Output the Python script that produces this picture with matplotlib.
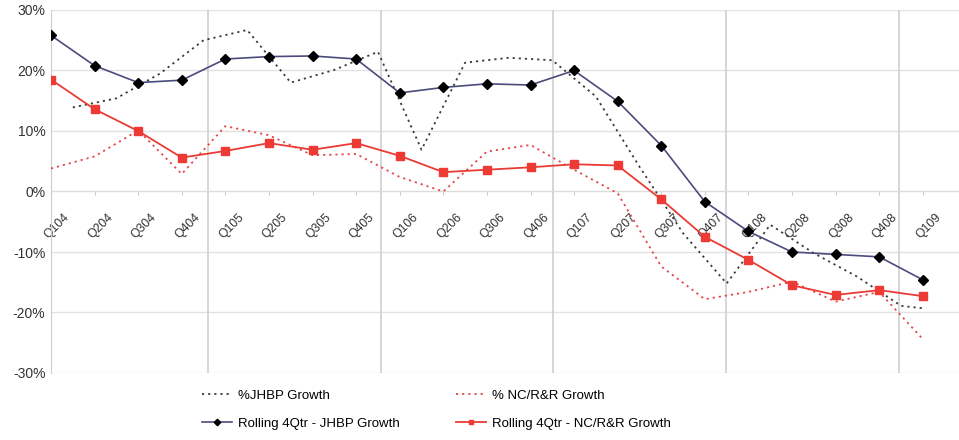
import numpy as np
import matplotlib
matplotlib.use("Agg")
import matplotlib.pyplot as plt
import matplotlib.transforms as mtransforms

plt.rcParams['font.family'] = ['Liberation Sans', 'DejaVu Sans']

quarters = ["Q104", "Q204", "Q304", "Q404",
            "Q105", "Q205", "Q305", "Q405",
            "Q106", "Q206", "Q306", "Q406",
            "Q107", "Q207", "Q307", "Q407",
            "Q108", "Q208", "Q308", "Q408",
            "Q109"]

# rolling 4 quarter growth (%)
rolling_jhbp = [25.8, 20.8, 18.0, 18.4, 21.9, 22.3, 22.4, 21.9, 16.3, 17.2, 17.8,
                17.6, 20.0, 14.9, 7.6, -1.7, -6.6, -10.0, -10.4, -10.8, -14.6]
rolling_nc = [18.5, 13.6, 10.0, 5.6, 6.7, 8.0, 6.9, 8.0, 5.9, 3.2, 3.6,
              4.0, 4.5, 4.3, -1.3, -7.5, -11.3, -15.5, -17.1, -16.3, -17.3]

# quarterly growth (%) - JHBP series sits between the quarter ticks
jhbp_growth = [13.9, 15.4, 19.5, 25.0, 26.7, 18.0, 20.1, 23.1, 6.9, 21.3, 22.1,
               21.7, 15.7, 4.1, -6.9, -15.2, -5.5, -10.2, -14.1, -18.9, -19.3]
nc_growth = [3.8, 5.8, 10.1, 2.9, 10.8, 9.3, 6.0, 6.2, 2.4, 0.0, 6.6,
             7.7, 3.6, -0.3, -12.4, -17.8, -16.6, -14.9, -18.2, -16.6, -24.4]

yticks = [-30, -20, -10, 0, 10, 20, 30]

fig = plt.figure(figsize=(9.59, 4.40), dpi=100)
ax = fig.add_axes([51 / 959, 67 / 440, 908 / 959, 363 / 440])

# spine position first, it resets the ticks
for side in ["top", "right"]:
    ax.spines[side].set_visible(False)
ax.spines["left"].set_color("#cccccc")
ax.spines["bottom"].set_position(("data", 0))
ax.spines["bottom"].set_color("#dddddd")

x = np.arange(len(quarters))
x_jhbp = np.append(np.arange(len(jhbp_growth) - 1) + 0.5, len(quarters) - 1)

l1, = ax.plot(x_jhbp, jhbp_growth, color="#3a3a3a", lw=1.3,
              linestyle=(0, (1.2, 2.2)), zorder=3, label="%JHBP Growth")
l3, = ax.plot(x, nc_growth, color="#e5484a", lw=1.3,
              linestyle=(0, (1.2, 2.2)), zorder=3, label="% NC/R&R Growth")
l2, = ax.plot(x, rolling_jhbp, color="#4b4b7e", lw=1.2, marker="D", ms=5.5,
              mfc="black", mec="black", zorder=4, label="Rolling 4Qtr - JHBP Growth")
l4, = ax.plot(x, rolling_nc, color="#ea3b35", lw=1.3, marker="s", ms=6,
              mfc="#ee3a35", mec="#ee3a35", zorder=4, label="Rolling 4Qtr - NC/R&R Growth")

ax.set_xlim(0, 20.83)
ax.set_ylim(-30, 30)

ax.set_yticks(yticks)
ax.set_yticklabels([f"{v}%" for v in yticks])
ax.yaxis.grid(True, color="#e2e2e2", lw=1)
ax.set_axisbelow(True)
for xv in np.linspace(3.6, 19.45, 5):
    ax.axvline(xv, color="#d0d0d0", lw=1.2, zorder=1)

ax.set_xticks(x)
ax.set_xticklabels(quarters)
ax.tick_params(axis="x", length=3, pad=11, color="#cccccc", direction="out",
               labelsize=8.8, labelcolor="#333333", labelrotation=45)
ax.tick_params(axis="y", length=0, pad=4, labelsize=10, labelcolor="#333333")

offset = mtransforms.ScaledTranslation(0.06, 0, fig.dpi_scale_trans)
for lab in ax.get_xticklabels():
    lab.set_horizontalalignment("center")
    lab.set_transform(lab.get_transform() + offset)

fig.legend(handles=[l1, l2, l3, l4], loc="upper left",
           bbox_to_anchor=(190 / 959, 1 - 378 / 440), ncol=2, frameon=False,
           fontsize=9.5, handlelength=2.3, handletextpad=0.4,
           columnspacing=4.3, labelspacing=1.18, markerscale=0.6)

fig.savefig("out.png", dpi=100)
